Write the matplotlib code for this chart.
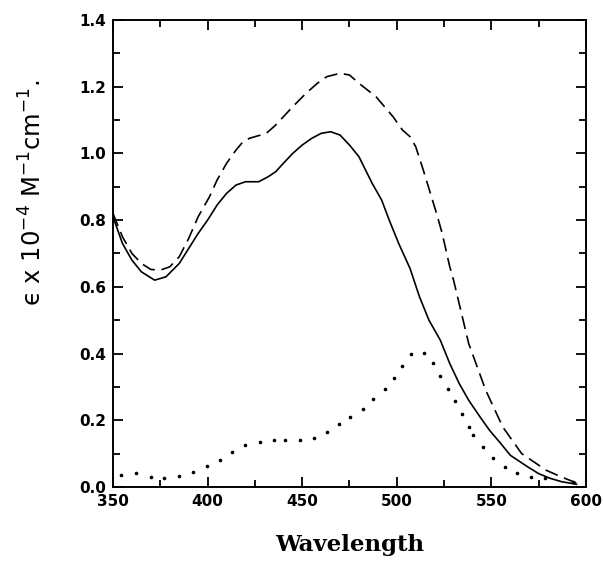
import numpy as np
import matplotlib
matplotlib.use("Agg")
import matplotlib.pyplot as plt
from matplotlib.ticker import MultipleLocator

# solid curve
solid_wl = [350, 355, 360, 365, 372, 378, 385, 390, 395, 400, 405, 410, 415, 420, 427, 432,
            436, 440, 445, 450, 455, 460, 465, 470, 475, 480, 487, 492, 496, 501, 507, 512,
            517, 523, 528, 533, 538, 544, 549, 555, 560, 569, 575, 581, 587, 595]
solid_eps = [0.81, 0.73, 0.68, 0.645, 0.62, 0.63, 0.67, 0.715, 0.76, 0.80, 0.845, 0.88, 0.905,
             0.915, 0.915, 0.93, 0.945, 0.97, 1.0, 1.025, 1.045, 1.06, 1.065, 1.055, 1.025,
             0.99, 0.91, 0.86, 0.80, 0.73, 0.655, 0.57, 0.50, 0.44, 0.37, 0.31, 0.26, 0.21,
             0.17, 0.13, 0.095, 0.061, 0.04, 0.026, 0.016, 0.008]

# dashed curve
dash_wl = [350, 355, 360, 365, 370, 375, 380, 385, 390, 395, 401, 405, 410, 415, 418, 422,
           431, 436, 445, 452, 458, 463, 470, 475, 480, 489, 498, 503, 507, 510, 514, 521,
           524, 528, 530, 538, 547, 556, 566, 579, 587, 595]
dash_eps = [0.82, 0.75, 0.70, 0.67, 0.652, 0.65, 0.66, 0.69, 0.745, 0.81, 0.87, 0.92, 0.97,
            1.01, 1.03, 1.045, 1.06, 1.085, 1.14, 1.18, 1.21, 1.23, 1.24, 1.235, 1.21, 1.17,
            1.11, 1.07, 1.05, 1.02, 0.95, 0.82, 0.76, 0.66, 0.62, 0.43, 0.29, 0.18, 0.10,
            0.05, 0.03, 0.012]

# dotted curve (single dots)
dot_wl = [354, 362, 370, 377, 385, 392.5, 399.5, 406.5, 413, 420, 427.5, 435, 441, 449, 456,
          463, 469.5, 475.5, 482, 487.5, 493.5, 498.5, 503, 507.5, 514.5, 519, 523, 527, 531,
          534.5, 538, 540.5, 545.5, 551, 557, 563.5, 571, 578.5, 593]
dot_eps = [0.036, 0.041, 0.031, 0.026, 0.033, 0.044, 0.063, 0.081, 0.106, 0.126, 0.136, 0.141,
           0.141, 0.141, 0.147, 0.166, 0.188, 0.21, 0.234, 0.263, 0.294, 0.327, 0.363, 0.398,
           0.403, 0.373, 0.334, 0.295, 0.258, 0.219, 0.18, 0.156, 0.12, 0.086, 0.061, 0.041,
           0.031, 0.026, 0.015]

fig = plt.figure(figsize=(6.03, 5.62), dpi=100)
ax = fig.add_axes([0.1874, 0.1335, 0.7844, 0.831])

ax.plot(solid_wl, solid_eps, color="black", lw=1.2)
ax.plot(dash_wl, dash_eps, color="black", lw=1.2, linestyle=(0, (8, 4)))
ax.plot(dot_wl, dot_eps, color="black", linestyle="none", marker="o", ms=1.6)

ax.set_xlim(350, 600)
ax.set_ylim(0, 1.4)
ax.xaxis.set_major_locator(MultipleLocator(50))
ax.xaxis.set_minor_locator(MultipleLocator(25))
ax.yaxis.set_major_locator(MultipleLocator(0.2))
ax.yaxis.set_minor_locator(MultipleLocator(0.1))
ax.yaxis.set_major_formatter(matplotlib.ticker.FormatStrFormatter("%.1f"))
ax.tick_params(which="both", direction="in", top=True, right=True, width=1.3)
ax.tick_params(which="major", length=7, labelsize=11, pad=5)
ax.tick_params(which="minor", length=5)
for lab in ax.get_xticklabels() + ax.get_yticklabels():
    lab.set_fontweight("bold")
for s in ax.spines.values():
    s.set_linewidth(1.4)

ax.set_xlabel("Wavelength", family="DejaVu Serif", fontweight="bold", fontsize=16.5)
ax.xaxis.set_label_coords(0.5, -0.1)
ax.set_ylabel("\u03f5 x 10$^{-4}$ M$^{-1}$cm$^{-1}$.", fontsize=17.5)
ax.yaxis.set_label_coords(-0.14, 0.63)

fig.savefig("out.png", dpi=100)
